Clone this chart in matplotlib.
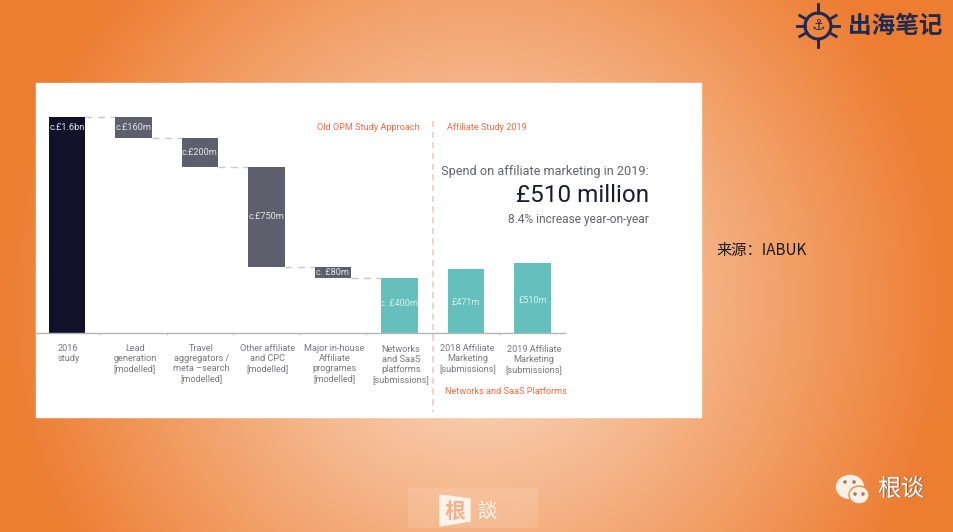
import numpy as np
import matplotlib
matplotlib.use("Agg")
import matplotlib.pyplot as plt
from matplotlib.patches import Circle, Ellipse, Polygon, Rectangle

plt.rcParams['font.family'] = ['Roboto', 'Noto Sans CJK SC', 'DejaVu Sans']

W, H = 954, 532
CJK = ['Noto Sans CJK SC', 'DejaVu Sans']

# Bars, in £m
categories = ["2016\nstudy", "Lead\ngeneration\n[modelled]", "Travel\naggregators /\nmeta \u2013search\n[modelled]",
              "Other affiliate\nand CPC\n[modelled]", "Major in-house\nAffiliate\nprogrames\n[modelled]",
              "Networks\nand SaaS\nplatforms\n[submissions]", "2018 Affiliate\nMarketing\n[submissions]",
              "2019 Affiliate\nMarketing\n[submissions]"]
bar_tops = [1600, 1600, 1445, 1230, 490, 410, 475, 518]
bar_bottoms = [0, 1445, 1230, 490, 410, 0, 0, 0]
bar_labels = ["c.£1.6bn", "c.£160m", "c.£200m", "c.£750m", "c. £80m", "c. £400m", "£471m", "£510m"]
bar_colors = ["#11112a", "#5d5f6d", "#5d5f6d", "#5d5f6d", "#5d5f6d", "#64bfbd", "#64bfbd", "#64bfbd"]
label_offset = [[0, 1600 - 70], [0, 1530], [0, 1340], [0, 860], [0, 450], [0, 0], [0, 0], [0, 0]]

fig = plt.figure(figsize=(W / 100, H / 100), dpi=100)

# Slide background: radial gradient
bg = fig.add_axes([0, 0, 1, 1])
yy, xx = np.mgrid[0:H, 0:W]
r = np.sqrt(((xx - 477) / 477.0) ** 2 + ((yy - 300) / 477.0) ** 2)
t = np.clip(r / 1.0, 0, 1)[..., None]
inner = np.array([0xFB, 0xE2, 0xCF]) / 255
outer = np.array([0xED, 0x7D, 0x31]) / 255
bg.imshow(inner * (1 - t) + outer * t, extent=(0, W, H, 0), aspect='auto')
bg.set_xlim(0, W)
bg.set_ylim(H, 0)
bg.axis('off')

# White panel
bg.add_patch(Rectangle((36, 83), 665, 334, color='white', zorder=2))

# Chart axes sits on the panel. 66.5 px per category, 0.135 px per £m
ax = fig.add_axes([36 / W, 1 - 417 / H, 665 / W, 334 / H])
ax.set_xlim((36 - 67) / 66.5, (701 - 67) / 66.5)
ax.set_ylim((333 - 417) / 0.135, (333 - 83) / 0.135)
ax.patch.set_alpha(0)
ax.axis('off')

pos = np.arange(len(categories))
heights = np.array(bar_tops) - np.array(bar_bottoms)
ax.bar(pos, heights, bottom=bar_bottoms, width=0.55, color=bar_colors, zorder=3)

# Dashed connectors between the waterfall steps
for i in range(5):
    ax.plot([pos[i] + 0.275, pos[i + 1] - 0.275], [bar_bottoms[i + 1] if i == 0 else bar_bottoms[i]] * 2
            if i > 0 else [bar_tops[0]] * 2,
            color='#c9c9cd', lw=1, dashes=(5, 4), zorder=2)

# Base line with small ticks
ax.plot([-0.47, 7.49], [0, 0], color='#b5b5b8', lw=1, zorder=4)
for p in pos[:-1]:
    ax.plot([p + 0.5, p + 0.5], [0, -8], color='#b5b5b8', lw=0.8)

# Value labels
label_y = [1525, 1525, 1335, 860, 450, 215, 225, 240]
for p, lab, y in zip(pos, bar_labels, label_y):
    col = '#d8f0ee' if p >= 5 else '#e4e4e8'
    ax.text(p, y, lab, color=col, fontsize=6.6, ha='center', va='center', zorder=5)

# Category labels, first line's top in px below the axis
label_top = [-85, -85, -85, -85, -85, -90, -85, -90]
for p, cat, y in zip(pos, categories, label_top):
    ax.text(p + (0.02 if p != 5 else 0.02), y, cat, color='#77777d', fontsize=6.6, ha='center', va='top',
            linespacing=1.12, zorder=5)

# Divider and section notes
bg.plot([433, 433], [121, 412], color='#f4c4b4', lw=1.1, dashes=(4, 3), zorder=3)
bg.text(420, 128, "Old OPM Study Approach", color='#f26b43', fontsize=6.6, ha='right', va='center', zorder=5)
bg.text(447, 128, "Affiliate Study 2019", color='#f26b43', fontsize=6.6, ha='left', va='center', zorder=5)
bg.text(445, 392, "Networks and SaaS Platforms", color='#f26b43', fontsize=6.6, ha='left', va='center', zorder=5)
bg.text(649, 171, "Spend on affiliate marketing in 2019:", color='#63636f', fontsize=9.2, ha='right', va='center', zorder=5)
bg.text(649, 196, "£510 million", color='#1a1a30', fontsize=17.5, ha='right', va='center', zorder=5)
bg.text(649, 220, "8.4% increase year-on-year", color='#63636f', fontsize=8.6, ha='right', va='center', zorder=5)

# Source note
bg.text(716, 250, "来源：IABUK", color='#1a1a1a', fontsize=11, ha='left', va='center', family=CJK, zorder=5)

# Top-right logo
navy = '#1f2a52'
bg.add_patch(Circle((818, 26), 13, fill=False, ec=navy, lw=2.2, zorder=5))
for a in np.arange(0, 360, 60) + 30:
    c, s = np.cos(np.radians(a)), np.sin(np.radians(a))
    bg.plot([818 + 13 * c, 818 + 21 * c], [26 + 13 * s, 26 + 21 * s], color=navy, lw=2, zorder=5)
bg.plot([818, 818], [4, 13], color=navy, lw=2, zorder=5)
bg.plot([818, 818], [39, 46], color=navy, lw=2, zorder=5)
bg.plot([797, 805], [26, 26], color=navy, lw=2, zorder=5)
bg.plot([831, 839], [26, 26], color=navy, lw=2, zorder=5)
bg.text(818, 26, "\u2693", color=navy, fontsize=11, ha='center', va='center', family='DejaVu Sans', zorder=6)
bg.text(895, 26, "出海笔记", color=navy, fontsize=17, ha='center', va='center', family=CJK,
        fontweight='bold', zorder=5)

# Bottom logo
bg.add_patch(Rectangle((408, 488), 130, 40, color='white', alpha=0.12, lw=0, zorder=2))
bg.add_patch(Polygon([(440, 495), (470, 499), (470, 521), (440, 526)], color='#fdf3ea', zorder=3))
bg.text(455, 511, "根", color='#f0b48c', fontsize=15, ha='center', va='center', family=CJK, fontweight='bold', zorder=4)
bg.text(487, 511, "談", color='#fdf3ea', fontsize=14, ha='center', va='center', family=['Noto Sans CJK TC', 'DejaVu Sans'],
        zorder=4)

# WeChat mark
bg.add_patch(Ellipse((850, 487), 27, 23, color='#fdf0e6', zorder=4))
bg.add_patch(Ellipse((859, 495), 20, 18, color='#fdf0e6', ec='#ee8a45', lw=1, zorder=5))
for x, y, col in [(845, 482, '#b07a5a'), (854, 482, '#b07a5a'), (855, 494, '#b07a5a'), (863, 494, '#b07a5a')]:
    bg.add_patch(Circle((x, y), 1.1, color=col, zorder=6))
bg.text(878, 490, "根谈", color='#7a5a48', fontsize=17, ha='left', va='center', family=CJK, zorder=4)
bg.text(877, 489, "根谈", color='white', fontsize=17, ha='left', va='center', family=CJK, zorder=5)

fig.savefig("out.png", dpi=100)
